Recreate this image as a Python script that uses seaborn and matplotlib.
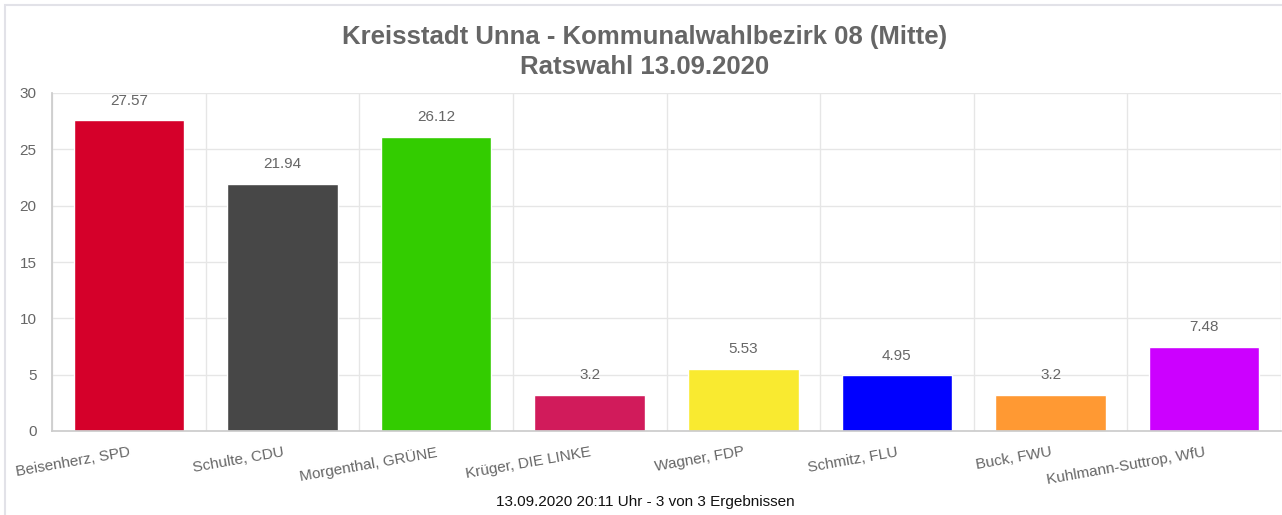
import matplotlib
matplotlib.use("Agg")
import matplotlib.pyplot as plt
import numpy as np
import pandas as pd
import seaborn as sns
from matplotlib.patches import Rectangle

candidates = ["Beisenherz, SPD", "Schulte, CDU", "Morgenthal, GRÜNE", "Krüger, DIE LINKE",
              "Wagner, FDP", "Schmitz, FLU", "Buck, FWU", "Kuhlmann-Suttrop, WfU"]
shares = [27.57, 21.94, 26.12, 3.2, 5.53, 4.95, 3.2, 7.48]
colors = ["#d5002a", "#474747", "#33cc00", "#d11b5b", "#f9ea30", "#0000ff", "#ff9933", "#cc00ff"]
y_ticks = [0, 5, 10, 15, 20, 25, 30]

title_1 = "Kreisstadt Unna - Kommunalwahlbezirk 08 (Mitte)"
title_2 = "Ratswahl 13.09.2020"
footer = "13.09.2020 20:11 Uhr - 3 von 3 Ergebnissen"

sns.set_theme(style="white")
plt.rcParams["font.family"] = ["Liberation Sans", "DejaVu Sans"]

W, H = 1282, 515
fig = plt.figure(figsize=(W / 100, H / 100), dpi=100)
ax = fig.add_axes([52 / W, 1 - 431 / H, (1281 - 52) / W, (431 - 93) / H])

df = pd.DataFrame({"candidate": candidates, "share": shares})
sns.barplot(data=df, x="candidate", y="share", hue="candidate", palette=colors,
            width=0.72, legend=False, ax=ax, saturation=1)

for i, v in enumerate(shares):
    ax.annotate(f"{v:g}", (i, v), xytext=(0, 9), textcoords="offset points",
                ha="center", va="bottom", fontsize=11, color="#666666")

ax.set_xlim(-0.5, len(candidates) - 0.5)
ax.set_ylim(0, 30)
ax.set_yticks(y_ticks)
ax.set_xlabel("")
ax.set_ylabel("")

# category boundaries as grid lines and tick marks
ax.set_xticks(np.arange(len(candidates) + 1) - 0.5, minor=True)
ax.grid(True, axis="x", which="minor", color="#e6e6e6", linewidth=1)
ax.grid(True, axis="y", which="major", color="#e6e6e6", linewidth=1)
ax.set_axisbelow(True)
ax.tick_params(axis="x", which="major", length=0, pad=10)
ax.tick_params(axis="x", which="minor", length=9, color="#cfcfcf", width=1)
ax.tick_params(axis="y", length=10, color="#e0e0e0", width=1, pad=1,
               labelsize=11, labelcolor="#666666")
ax.set_xticks(range(len(candidates)))
ax.set_xticklabels(candidates, rotation=10, ha="right", rotation_mode="anchor",
                   fontsize=11, color="#666666")

for s in ["top", "right"]:
    ax.spines[s].set_visible(False)
ax.spines["left"].set_color("#cccccc")
ax.spines["bottom"].set_color("#cccccc")

fig.text(645 / W, 1 - 37 / H, title_1, ha="center", va="center",
         fontsize=18.5, fontweight="bold", color="#666666")
fig.text(645 / W, 1 - 67 / H, title_2, ha="center", va="center",
         fontsize=18.5, fontweight="bold", color="#666666")
fig.text(645 / W, 1 - 502 / H, footer, ha="center", va="center",
         fontsize=11, color="#111111")

fig.patches.append(Rectangle((5 / W, -0.1), 1.2, 1 - 5 / H + 0.1, transform=fig.transFigure,
                             fill=False, edgecolor="#e2e2e8", linewidth=1.5))

fig.savefig("out.png", dpi=100)
